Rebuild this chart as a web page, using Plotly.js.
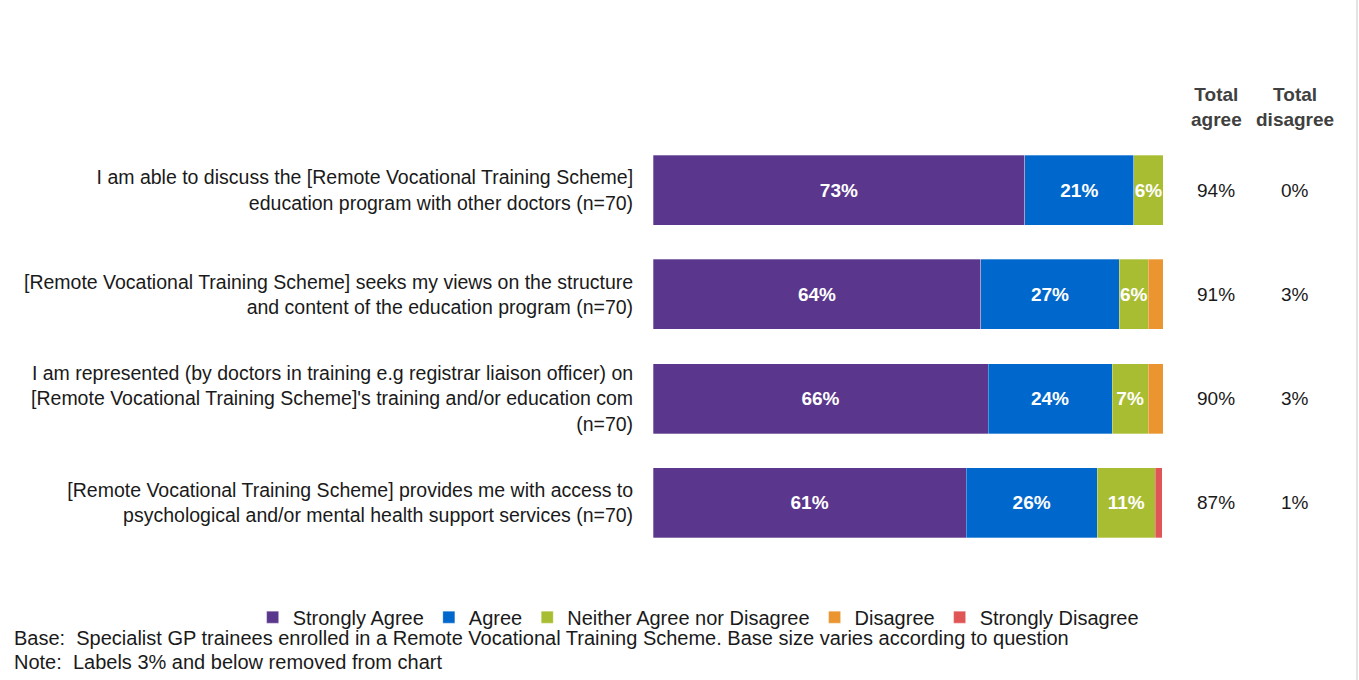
<!DOCTYPE html>
<html>
<head>
<meta charset="utf-8">
<script src="https://cdn.plot.ly/plotly-3.0.1.min.js"></script>
<style>html,body{margin:0;padding:0;background:#fff;}#chart{width:1359px;height:680px;}</style>
</head>
<body>
<div id="chart"></div>
<script>
const categories = [
  "I am able to discuss the [Remote Vocational Training Scheme]<br>education program with other doctors (n=70)",
  "[Remote Vocational Training Scheme] seeks my views on the structure<br>and content of the education program (n=70)",
  "I am represented (by doctors in training e.g registrar liaison officer) on<br>[Remote Vocational Training Scheme]'s training and/or education com<br>(n=70)",
  "[Remote Vocational Training Scheme] provides me with access to<br>psychological and/or mental health support services (n=70)"
];
const seriesNames = ["Strongly Agree", "Agree", "Neither Agree nor Disagree", "Disagree", "Strongly Disagree"];
const stronglyAgree = [72.9, 64.3, 65.7, 61.4];
const agree = [21.4, 27.1, 24.3, 25.7];
const neither = [5.7, 5.7, 7.1, 11.4];
const disagree = [0, 2.9, 2.9, 0];
const stronglyDisagree = [0, 0, 0, 1.4];
const totalAgree = [94, 91, 90, 87];
const totalDisagree = [0, 3, 3, 1];
const colors = ["#5A368C", "#0068CC", "#A9BD32", "#EA9530", "#E05656"];

const seriesValues = [stronglyAgree, agree, neither, disagree, stronglyDisagree];
const font = "Liberation Sans, Arial, sans-serif";

const traces = seriesValues.map((vals, i) => ({
  type: "bar",
  orientation: "h",
  name: seriesNames[i],
  y: categories,
  x: vals,
  marker: {color: colors[i], line: {color: "rgba(255,255,255,0.5)", width: 0.6}},
  text: vals.map(v => Math.round(v) > 3 ? "<b>" + Math.round(v) + "%</b>" : ""),
  textposition: "inside",
  insidetextanchor: "middle",
  textangle: 0,
  constraintext: "none",
  textfont: {color: "#ffffff", size: 19, family: font},
  hoverinfo: "skip"
}));

const annotations = [];
categories.forEach((c, i) => {
  annotations.push({xref: "paper", yref: "y", x: 1.104, y: c, text: totalAgree[i] + "%", showarrow: false,
    font: {size: 19, color: "#1a1a1a", family: font}, xanchor: "center"});
  annotations.push({xref: "paper", yref: "y", x: 1.259, y: c, text: totalDisagree[i] + "%", showarrow: false,
    font: {size: 19, color: "#1a1a1a", family: font}, xanchor: "center"});
});
annotations.push({xref: "paper", yref: "paper", x: 1.104, y: 1.0755, yanchor: "middle", text: "<b>Total<br>agree</b>", showarrow: false,
  font: {size: 19, color: "#404040", family: font}, xanchor: "center"});
annotations.push({xref: "paper", yref: "paper", x: 1.259, y: 1.0755, yanchor: "middle", text: "<b>Total<br>disagree</b>", showarrow: false,
  font: {size: 19, color: "#404040", family: font}, xanchor: "center"});
annotations.push({xref: "paper", yref: "paper", x: -1.2569, y: -0.199, xanchor: "left", yanchor: "middle", align: "left",
  text: "Base:  Specialist GP trainees enrolled in a Remote Vocational Training Scheme. Base size varies according to question",
  showarrow: false, font: {size: 20, color: "#1a1a1a", family: font}});
annotations.push({xref: "paper", yref: "paper", x: -1.2569, y: -0.2566, xanchor: "left", yanchor: "middle", align: "left",
  text: "Note:  Labels 3% and below removed from chart",
  showarrow: false, font: {size: 20, color: "#1a1a1a", family: font}});

const layout = {
  width: 1359, height: 680,
  margin: {l: 653, r: 196, t: 138, b: 125, autoexpand: false},
  barmode: "stack",
  bargap: 0.33,
  paper_bgcolor: "#ffffff",
  plot_bgcolor: "#ffffff",
  font: {family: font, size: 19, color: "#1a1a1a"},
  xaxis: {range: [0, 100], visible: false, fixedrange: true},
  yaxis: {autorange: "reversed", showgrid: false, zeroline: false, showline: false,
    ticks: "outside", ticklen: 15, tickcolor: "rgba(0,0,0,0)",
    tickfont: {size: 19.5, color: "#1a1a1a", family: font}, automargin: false},
  showlegend: true,
  legend: {orientation: "h", xref: "paper", yref: "paper", x: -0.785, xanchor: "left", y: -0.149, yanchor: "middle",
    font: {size: 20, color: "#1a1a1a", family: font}, traceorder: "normal",
    itemwidth: 30, tracegroupgap: 0, bgcolor: "rgba(0,0,0,0)"},
  shapes: [{type: "line", xref: "paper", yref: "paper", x0: 1.3804, x1: 1.3804, y0: -0.3, y1: 1.34,
    line: {color: "#c8c8c8", width: 1}}],
  annotations: annotations
};

Plotly.newPlot("chart", traces, layout, {displayModeBar: false, staticPlot: true});
</script>
</body>
</html>
